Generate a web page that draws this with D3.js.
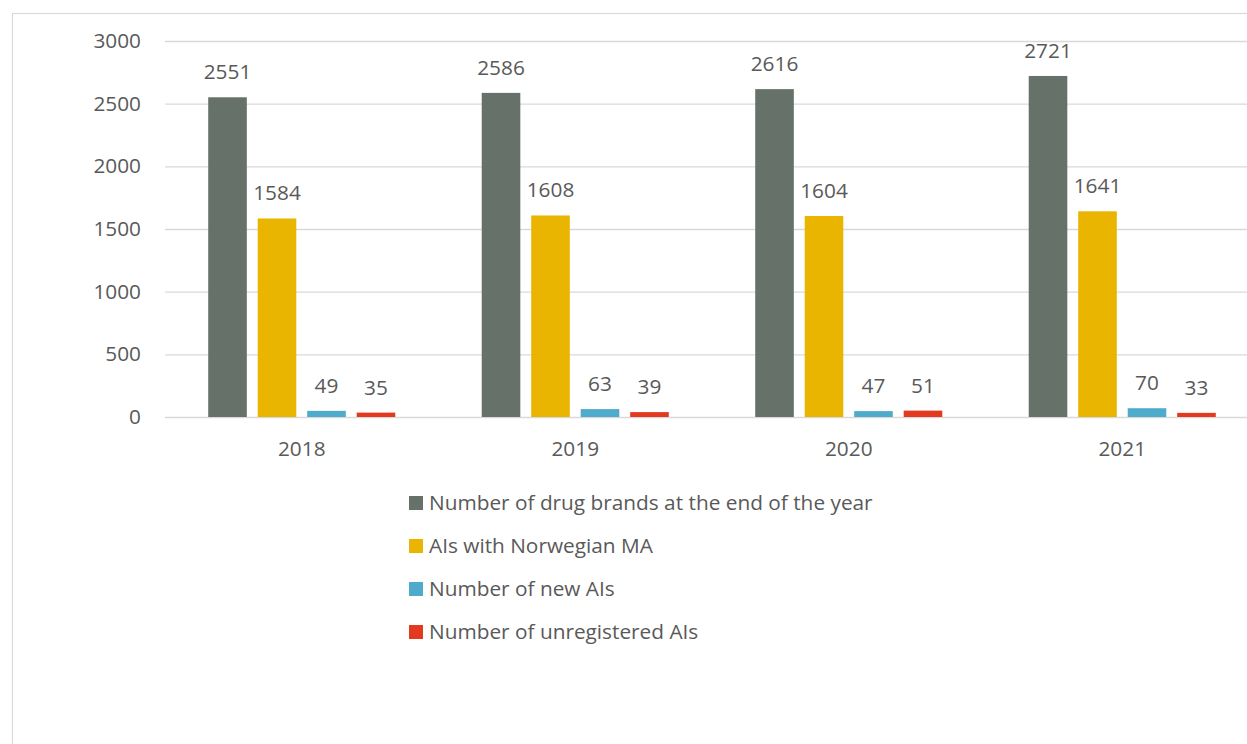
<!DOCTYPE html>
<html>
<head>
<meta charset="utf-8">
<script src="https://cdn.jsdelivr.net/npm/d3@7"></script>
<style>
  body { margin: 0; background: #fff; overflow: hidden; }
  text { font-family: "Open Sans", sans-serif; fill: #595959; }
</style>
</head>
<body>
<script>
// chart data
const years = ['2018', '2019', '2020', '2021'];
const seriesNames = [
	'Number of drug brands at the end of the year',
	'AIs with Norwegian MA',
	'Number of new AIs',
	'Number of unregistered AIs'
];
const drugBrands = [2551, 2586, 2616, 2721];
const aisWithMA = [1584, 1608, 1604, 1641];
const newAIs = [49, 63, 47, 70];
const unregisteredAIs = [35, 39, 51, 33];
const yTicks = [0, 500, 1000, 1500, 2000, 2500, 3000];
const colors = ['#667169', '#E9B500', '#4EABCB', '#E2391F'];

const allSeries = [drugBrands, aisWithMA, newAIs, unregisteredAIs];

// one row per year
const data = years.map((y, i) => {
	const row = { year: y };
	seriesNames.forEach((s, j) => { row[s] = allSeries[j][i]; });
	return row;
});

const W = 1247, H = 744;
const plotLeft = 165, plotRight = 1259, plotTop = 41, plotBottom = 417;
const fs = '20.8px';

const svg = d3.select('body').append('svg')
	.attr('width', W)
	.attr('height', H);

// outer frame
svg.append('rect')
	.attr('x', 12.5).attr('y', 13.5)
	.attr('width', W + 20).attr('height', H + 20)
	.attr('fill', 'none')
	.attr('stroke', '#d9d9d9')
	.attr('stroke-width', 1.2);

// scales
const x0 = d3.scaleBand()
	.domain(years)
	.range([plotLeft, plotRight])
	.paddingInner(0.316)
	.paddingOuter(0.158);

const x1 = d3.scaleBand()
	.domain(seriesNames)
	.range([0, x0.bandwidth()])
	.paddingInner(0.22);

const y = d3.scaleLinear()
	.domain([0, 3000])
	.range([plotBottom, plotTop]);

const color = d3.scaleOrdinal().domain(seriesNames).range(colors);

// gridlines + y labels
const yAxis = svg.append('g')
	.attr('transform', `translate(${plotLeft},0)`)
	.call(d3.axisLeft(y).tickValues(yTicks).tickFormat(d3.format('d'))
		.tickSize(-(plotRight - plotLeft)).tickPadding(24));
yAxis.select('.domain').remove();
yAxis.selectAll('.tick line').attr('stroke', '#d9d9d9').attr('stroke-width', 1.3);
yAxis.selectAll('.tick text')
	.style('font-size', fs)
	.attr('fill', '#595959');

// bars
const groups = svg.append('g').selectAll('g')
	.data(data)
	.join('g')
	.attr('transform', d => `translate(${x0(d.year)},0)`);

groups.selectAll('rect')
	.data(d => seriesNames.map(s => ({ key: s, value: d[s] })))
	.join('rect')
	.attr('x', d => x1(d.key))
	.attr('y', d => y(d.value))
	.attr('width', x1.bandwidth())
	.attr('height', d => y(0) - y(d.value))
	.attr('fill', d => color(d.key));

// value labels
groups.selectAll('text.val')
	.data(d => seriesNames.map(s => ({ key: s, value: d[s] })))
	.join('text')
	.attr('class', 'val')
	.attr('x', d => x1(d.key) + x1.bandwidth() / 2)
	.attr('y', d => y(d.value) - 18)
	.attr('text-anchor', 'middle')
	.style('font-size', fs)
	.attr('fill', '#404040')
	.text(d => d.value);

// x labels
svg.append('g').selectAll('text')
	.data(years)
	.join('text')
	.attr('x', d => x0(d) + x0.bandwidth() / 2)
	.attr('y', 456)
	.attr('text-anchor', 'middle')
	.style('font-size', fs)
	.text(d => d);

// legend
const legend = svg.append('g').attr('transform', 'translate(409,496)');
const item = legend.selectAll('g')
	.data(seriesNames)
	.join('g')
	.attr('transform', (d, i) => `translate(0,${i * 43})`);
item.append('rect')
	.attr('width', 14).attr('height', 14)
	.attr('fill', d => color(d));
item.append('text')
	.attr('x', 20).attr('y', 7)
	.attr('dy', '0.35em')
	.style('font-size', fs)
	.text(d => d);
</script>
</body>
</html>
